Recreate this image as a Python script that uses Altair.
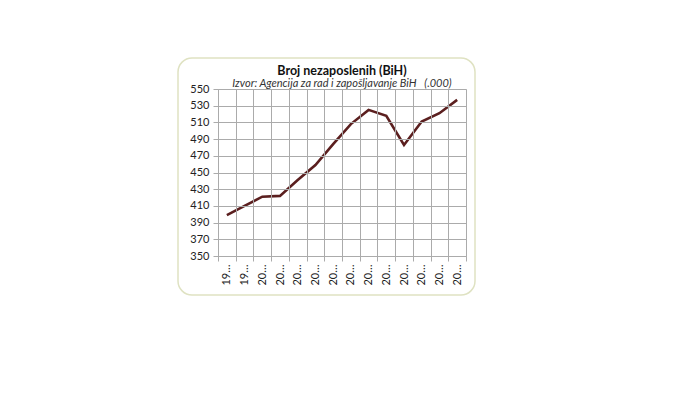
import json
import altair as alt
import pandas as pd

years = ["1998", "1999", "2000", "2001", "2002", "2003", "2004",
         "2005", "2006", "2007", "2008", "2009", "2010", "2011"]
values = [399, 410, 421, 422, 441, 459, 484, 508, 525, 518, 483, 511, 521, 537]
short_labels = [y[:2] + "\u2026" for y in years]

df = pd.DataFrame({"idx": list(range(len(years))), "year": years, "value": values})
boundaries = [i - 0.5 for i in range(len(years) + 1)]

FONT = "Lato"
W, H = 248, 167

xscale = alt.Scale(domain=[-0.5, len(years) - 0.5], nice=False, zero=False)
yscale = alt.Scale(domain=[350, 550], nice=False, zero=False)

yaxis = alt.Axis(values=list(range(350, 551, 20)), grid=True, gridColor="#ababab",
                 tickSize=5, tickColor="#ababab", domainColor="#ababab",
                 labelFont=FONT, labelFontSize=11, labelColor="#222222",
                 labelPadding=4, title=None, zindex=1)

frame = alt.Chart(df).mark_rect(
    cornerRadius=14, fillOpacity=0, stroke="#dfe2c2", strokeWidth=1.5, clip=False
).encode(
    x=alt.value(-40), x2=alt.value(257), y=alt.value(-31), y2=alt.value(206)
).transform_filter("datum.idx == 0")

grid_layer = alt.Chart(df).mark_line(opacity=0).encode(
    x=alt.X("idx:Q", scale=xscale,
            axis=alt.Axis(values=boundaries, labels=False, grid=True, gridColor="#ababab",
                          gridWidth=1, ticks=True, tickSize=5, tickColor="#ababab",
                          domainColor="#ababab", title=None, zindex=1, orient="bottom")),
    y=alt.Y("value:Q", scale=yscale, axis=yaxis),
)

line_layer = alt.Chart(df).mark_line(color="#5b1f1f", strokeWidth=2.6).encode(
    x=alt.X("idx:Q", scale=xscale,
            axis=alt.Axis(values=list(range(len(years))), grid=False, ticks=False, domain=False,
                          labelExpr=f"{json.dumps(short_labels)}[datum.value]",
                          labelAngle=-90, labelAlign="right", labelBaseline="middle",
                          labelFont=FONT, labelFontSize=11, labelColor="#222222",
                          labelPadding=8, title=None, zindex=1, orient="bottom")),
    y=alt.Y("value:Q", scale=yscale, axis=yaxis),
)

chart = alt.layer(frame, grid_layer, line_layer).resolve_axis(x="independent").properties(
    width=W, height=H,
    autosize=alt.AutoSizeParams(type="none"),
    padding={"left": 210, "top": 81, "right": 20, "bottom": 60},
    title=alt.TitleParams(
        "Broj nezaposlenih (BiH)",
        subtitle="Izvor: Agencija za rad i zapošljavanje BiH\u00a0\u00a0\u00a0(.000)",
        font=FONT, fontSize=12.5, fontWeight="bold", color="#111111",
        subtitleFont=FONT, subtitleFontSize=11, subtitleFontStyle="italic",
        subtitleColor="#333333", subtitlePadding=1, anchor="middle", offset=-32,
    ),
).configure_view(stroke="#ababab", strokeWidth=1).configure(background="white")

chart.save("out.html", embed_options={"renderer": "svg", "actions": False})
